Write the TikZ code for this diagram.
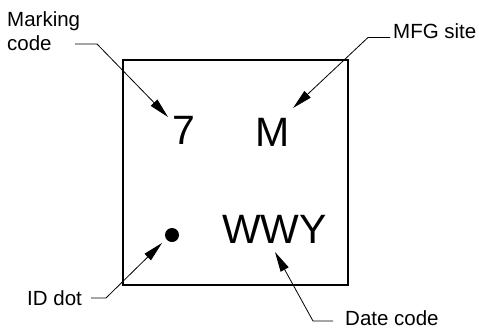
\documentclass[tikz,border=0pt]{standalone}
\usepackage{fontspec}
\setmainfont{Liberation Sans}
\usetikzlibrary{arrows.meta}
\begin{document}
\begin{tikzpicture}[x=1pt,y=-1pt,
  lbl/.style={inner sep=0pt, font=\fontsize{20.5}{24}\selectfont, anchor=base west},
  big/.style={inner sep=0pt, font=\fontsize{41}{45}\selectfont, anchor=base west},
  leader/.style={line width=0.8pt, -{Triangle[length=20pt,width=9pt]}},
  chip/.style={draw, line width=2.2pt, inner sep=0pt, minimum width=225pt, minimum height=225pt}
  ]
\useasboundingbox (0,0) rectangle (479,330);
% package outline
\node[chip] (pkg) at (235.5,172.5) {};
% texts inside
\node[big] (seven) at (172,144) {7};
\node[big] (mfg) at (255,146.5) {M};
\node[big] (wwy) at (222,243) {WWY};
\fill (172,235) circle[radius=7pt];
\coordinate (iddot) at (172,235);
% labels
\node[lbl, anchor=north west, align=left] (lmark) at (7,11.3) {Marking\\code};
\node[lbl] (lmfg) at (393,38) {MFG site};
\node[lbl] (lid) at (27,305) {ID dot};
\node[lbl] (ldate) at (345,325) {Date code};
% leader knees and tips
\coordinate (m0) at (75,44);   \coordinate (m1) at (97,44);   \coordinate (mt) at (168,117);
\coordinate (f0) at (390,37.5);\coordinate (f1) at (368,37.5);\coordinate (ft) at (293,108);
\coordinate (i0) at (91,298);  \coordinate (i1) at (106,298); \coordinate (it) at (162,243);
\coordinate (d0) at (333,321); \coordinate (d1) at (313,321); \coordinate (dt) at (275,252);
\draw[leader] (m0) -- (m1) -- (mt);
\draw[leader] (f0) -- (f1) -- (ft);
\draw[leader] (i0) -- (i1) -- (it);
\draw[leader] (d0) -- (d1) -- (dt);
\end{tikzpicture}
\end{document}
